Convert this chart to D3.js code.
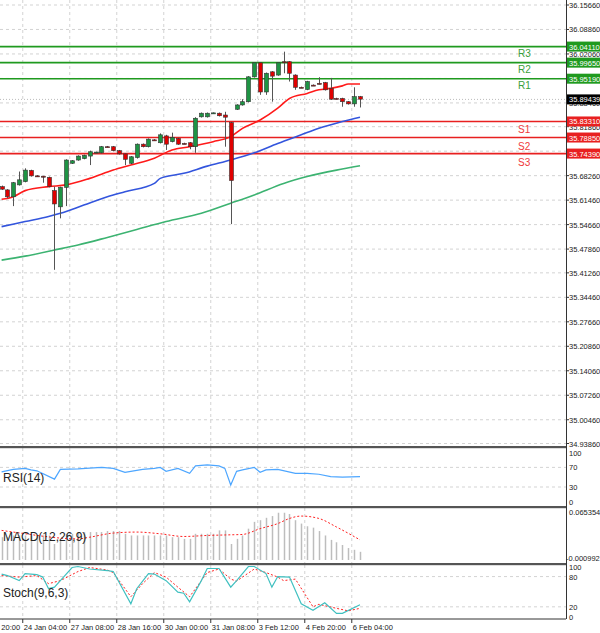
<!DOCTYPE html>
<html><head><meta charset="utf-8">
<script src="https://cdn.jsdelivr.net/npm/d3@7"></script>
<style>body{margin:0;background:#fff}svg{display:block;font-family:"Liberation Sans",Arial,sans-serif}</style>
</head><body><div id="chart"></div>
<script>
// H4 candles (price)
var opens  = [35.652,35.643,35.624,35.657,35.666,35.697,35.682,35.681,35.678,35.641,35.596,35.650,35.717,35.726,35.730,35.737,35.747,35.746,35.763,35.763,35.752,35.743,35.717,35.733,35.770,35.763,35.782,35.774,35.793,35.777,35.786,35.772,35.774,35.763,35.846,35.846,35.856,35.856,35.851,35.830,35.867,35.879,35.888,35.957,35.996,35.915,35.971,35.962,35.999,35.999,35.962,35.928,35.922,35.934,35.939,35.941,35.925,35.897,35.897,35.888,35.882,35.902];
var closes = [35.645,35.624,35.663,35.671,35.698,35.682,35.681,35.680,35.652,35.604,35.650,35.726,35.724,35.737,35.739,35.749,35.748,35.763,35.762,35.752,35.743,35.728,35.735,35.770,35.763,35.784,35.781,35.796,35.770,35.789,35.770,35.771,35.763,35.842,35.856,35.856,35.857,35.849,35.845,35.669,35.879,35.888,35.957,35.996,35.915,35.967,35.959,35.996,35.998,35.967,35.928,35.927,35.944,35.933,35.938,35.921,35.895,35.896,35.888,35.882,35.902,35.895];
var highs  = [35.655,35.645,35.665,35.694,35.703,35.699,35.684,35.682,35.680,35.652,35.652,35.728,35.726,35.739,35.741,35.752,35.749,35.765,35.765,35.765,35.754,35.745,35.737,35.772,35.772,35.786,35.784,35.800,35.796,35.802,35.788,35.774,35.776,35.845,35.858,35.858,35.858,35.858,35.860,35.832,35.881,35.895,35.959,35.998,35.998,35.969,35.973,35.998,36.027,36.001,35.964,35.930,35.946,35.936,35.956,35.943,35.954,35.899,35.899,35.890,35.928,35.904];
var lows   = [35.643,35.620,35.598,35.655,35.664,35.680,35.679,35.663,35.650,35.421,35.564,35.598,35.715,35.724,35.728,35.712,35.745,35.744,35.761,35.750,35.741,35.712,35.715,35.730,35.761,35.761,35.779,35.772,35.754,35.775,35.768,35.770,35.756,35.746,35.844,35.844,35.854,35.847,35.763,35.548,35.865,35.877,35.886,35.955,35.907,35.907,35.888,35.960,35.967,35.944,35.921,35.926,35.920,35.932,35.936,35.919,35.893,35.895,35.874,35.880,35.874,35.872];

// moving averages, [bar, price]
var maRed   = [[0,35.617],[2,35.624],[4,35.641],[8,35.652],[11,35.657],[15,35.675],[19,35.698],[22,35.712],[26,35.731],[29,35.754],[32,35.763],[36,35.777],[39,35.791],[41,35.814],[44,35.837],[47,35.870],[49,35.897],[52,35.911],[54,35.921],[56,35.925],[58,35.932],[59,35.937],[61,35.937]];
var maBlue  = [[0,35.541],[4,35.555],[8,35.569],[10,35.578],[14,35.601],[18,35.624],[21,35.638],[26,35.661],[27,35.675],[31,35.689],[35,35.709],[39,35.726],[43,35.746],[47,35.772],[51,35.796],[54,35.814],[58,35.833],[61,35.845]];
var maGreen = [[0,35.448],[4,35.459],[9,35.476],[13,35.490],[18,35.511],[23,35.533],[28,35.555],[34,35.578],[39,35.606],[43,35.629],[48,35.661],[52,35.680],[57,35.698],[61,35.710]];

var levelNames  = ["R3","R2","R1","S1","S2","S3"];
var levelValues = [36.0411,35.9965,35.9519,35.8331,35.7885,35.7439];
var lastPrice = 35.89439;

var priceTicks = ["36.15660","36.08860","36.02060","35.95260","35.88460","35.81860","35.75060","35.68260","35.61460","35.54660","35.47860","35.41260","35.34460","35.27660","35.20860","35.14060","35.07260","35.00460","34.93860"];
var timeLabels = ["22 Jan 20:00","24 Jan 04:00","27 Jan 08:00","28 Jan 16:00","30 Jan 00:00","31 Jan 08:00","3 Feb 12:00","4 Feb 20:00","6 Feb 04:00"];

var rsi = [[0,61],[2,66],[4,68],[5,65],[6,63],[9,46],[10,66],[13,67],[17,70],[19,68],[21,60],[24,66],[26,68],[27,70],[28,62],[30,68],[32,58],[33,73],[35,75],[37,73],[38,68],[39,34],[40,62],[41,65],[43,70],[44,60],[45,65],[47,66],[50,58],[52,58],[54,56],[56,51],[58,50],[61,51]];

var macdHist = [0.0315,0.0315,0.0339,0.0339,0.0339,0.0339,0.0339,0.0339,0.0339,0.0221,0.0268,0.0362,0.0362,0.0386,0.0386,0.0386,0.0386,0.0386,0.0400,0.0400,0.0400,0.0362,0.0339,0.0339,0.0339,0.0339,0.0339,0.0339,0.0339,0.0315,0.0315,0.0292,0.0292,0.0362,0.0362,0.0362,0.0362,0.0409,0.0409,0.0221,0.0292,0.0339,0.0433,0.0527,0.0550,0.0583,0.0607,0.0653,0.0653,0.0635,0.0550,0.0503,0.0466,0.0447,0.0400,0.0339,0.0278,0.0245,0.0207,0.0165,0.0141,0.0113];
var macdSignal = [[0,0.0409],[2,0.0386],[13,0.0292],[15,0.0315],[19,0.0372],[23,0.0386],[27,0.0362],[31,0.0325],[35,0.0339],[39,0.0348],[41,0.0353],[44,0.0433],[47,0.0503],[49,0.0574],[51,0.0607],[54,0.0574],[57,0.0456],[61,0.0278]];

var stochMain = [[0,85],[1,82],[3,72],[4,86],[6,84],[7,79],[8,56],[9,59],[10,72],[12,98],[13,100],[15,95],[18,92],[19,90],[22,26],[23,56],[25,86],[26,85],[28,72],[30,49],[31,47],[32,30],[34,72],[35,96],[37,96],[39,59],[40,72],[42,100],[43,100],[45,86],[46,59],[47,80],[49,79],[51,26],[53,13],[55,28],[57,7],[58,7],[61,24]];
var stochSignal = [[0,82],[3,79],[6,82],[8,66],[10,72],[13,90],[15,98],[18,93],[19,88],[22,40],[24,66],[26,88],[28,79],[30,59],[32,40],[35,88],[37,95],[39,75],[40,71],[43,95],[45,88],[47,79],[48,72],[50,75],[53,20],[54,25],[57,17],[59,12],[61,17]];

var W = 600, H = 633, plotR = 566;
var svg = d3.select("#chart").append("svg").attr("width", W).attr("height", H);

var x = d3.scaleLinear().domain([0, 61]).range([1.6, 360]);
var y = d3.scaleLinear().domain([34.9386, 36.1566]).range([443.5, 5]);
var yRsi = d3.scaleLinear().domain([0, 100]).range([501.7, 452.7]);
var yMacd = d3.scaleLinear().domain([0, 0.065354]).range([560, 512.7]);
var ySto = d3.scaleLinear().domain([0, 100]).range([616.9, 566.5]);

var grid = "#c8c8c8";
var tickIdx = timeLabels.map(function (d, i) { return -4.4 + 8 * i; });

// vertical grid
[[0,446],[448,506],[508,563],[565,619]].forEach(function (p) {
	svg.selectAll(null).data(tickIdx).enter().append("line")
		.attr("x1", function (d) { return x(d); }).attr("x2", function (d) { return x(d); })
		.attr("y1", p[0]).attr("y2", p[1])
		.attr("stroke", grid).attr("stroke-dasharray", "3,3").attr("stroke-width", 0.8);
});
// horizontal price grid
svg.selectAll(null).data(priceTicks).enter().append("line")
	.attr("x1", 0).attr("x2", plotR)
	.attr("y1", function (d) { return y(+d); }).attr("y2", function (d) { return y(+d); })
	.attr("stroke", grid).attr("stroke-dasharray", "3,3").attr("stroke-width", 0.8);

// sub-panel grids
[70,30].forEach(function (v) {
	svg.append("line").attr("x1",0).attr("x2",plotR).attr("y1",yRsi(v)).attr("y2",yRsi(v))
		.attr("stroke", grid).attr("stroke-dasharray","3,3").attr("stroke-width",0.8);
});
[80,20].forEach(function (v) {
	svg.append("line").attr("x1",0).attr("x2",plotR).attr("y1",ySto(v)).attr("y2",ySto(v))
		.attr("stroke", grid).attr("stroke-dasharray","3,3").attr("stroke-width",0.8);
});

// last price dotted line
svg.append("line").attr("x1",0).attr("x2",plotR).attr("y1",y(lastPrice)).attr("y2",y(lastPrice))
	.attr("stroke","#bbb").attr("stroke-dasharray","1,2");

// levels
var levelColor = function (i) { return i < 3 ? "#1f9a1f" : "#e82020"; };
levelValues.forEach(function (v, i) {
	svg.append("line").attr("x1",0).attr("x2",plotR).attr("y1",y(v)).attr("y2",y(v))
		.attr("stroke", levelColor(i)).attr("stroke-width",1.6);
	svg.append("text").attr("x",518).attr("y", y(v) + (i < 3 ? 10 : 12))
		.attr("font-size",10).attr("fill", i < 3 ? "#3aa03a" : "#f03a3a").text(levelNames[i]);
});

// moving averages
var line = d3.line().x(function (d) { return x(d[0]); }).y(function (d) { return y(d[1]); }).curve(d3.curveMonotoneX);
[[maGreen,"#3cb371"],[maBlue,"#3355dd"],[maRed,"#ff1a1a"]].forEach(function (m) {
	svg.append("path").attr("d", line(m[0])).attr("fill","none").attr("stroke",m[1]).attr("stroke-width",1.6);
});

// candles
var cg = svg.append("g");
opens.forEach(function (o, i) {
	var c = closes[i], up = c >= o, cx = Math.round(x(i)) + 0.5;
	cg.append("line").attr("x1",cx).attr("x2",cx).attr("y1",y(highs[i])).attr("y2",y(lows[i]))
		.attr("stroke","#555").attr("stroke-width",1);
	var top = y(Math.max(o, c)), h = Math.max(1, Math.abs(y(o) - y(c)));
	cg.append("rect").attr("x",cx - 2).attr("y",top).attr("width",4).attr("height",h)
		.attr("fill", up ? "#1e9444" : "#e00000").attr("stroke","#333").attr("stroke-width",0.6);
});

// RSI
var rsiLine = d3.line().x(function (d) { return x(d[0]); }).y(function (d) { return yRsi(d[1]); });
svg.append("path").attr("d", rsiLine(rsi)).attr("fill","none").attr("stroke","#4da6ff").attr("stroke-width",1.2);

// MACD
svg.selectAll(null).data(macdHist).enter().append("line")
	.attr("x1", function (d, i) { return Math.round(x(i)) + 0.5; })
	.attr("x2", function (d, i) { return Math.round(x(i)) + 0.5; })
	.attr("y1", yMacd(0)).attr("y2", function (d) { return yMacd(d); })
	.attr("stroke","#bdbdbd").attr("stroke-width",1.5);
var sigLine = d3.line().x(function (d) { return x(d[0]); }).y(function (d) { return yMacd(d[1]); }).curve(d3.curveMonotoneX);
svg.append("path").attr("d", sigLine(macdSignal)).attr("fill","none").attr("stroke","#ff2020")
	.attr("stroke-dasharray","2,2").attr("stroke-width",1);

// Stochastic
var stoLine = d3.line().x(function (d) { return x(d[0]); }).y(function (d) { return ySto(d[1]); });
svg.append("path").attr("d", stoLine(stochSignal)).attr("fill","none").attr("stroke","#ff2020")
	.attr("stroke-dasharray","2,2").attr("stroke-width",1);
svg.append("path").attr("d", stoLine(stochMain)).attr("fill","none").attr("stroke","#40c0c0").attr("stroke-width",1.2);

// panel captions
svg.append("text").attr("x",3).attr("y",482).attr("font-size",12).attr("fill","#222").text("RSI(14)");
svg.append("text").attr("x",3).attr("y",541).attr("font-size",12).attr("fill","#222").text("MACD(12,26,9)");
svg.append("text").attr("x",3).attr("y",597).attr("font-size",12).attr("fill","#222").text("Stoch(9,6,3)");

// separators and frame
[447, 507, 564].forEach(function (yy) {
	svg.append("rect").attr("x",0).attr("y",yy - 1).attr("width",plotR).attr("height",2.2).attr("fill","#555");
});
svg.append("line").attr("x1",plotR + 0.5).attr("x2",plotR + 0.5).attr("y1",0).attr("y2",619).attr("stroke","#333");
svg.append("line").attr("x1",0).attr("x2",plotR).attr("y1",619).attr("y2",619).attr("stroke","#333");

// right axis
var ax = svg.append("g").attr("font-size",7.5).attr("fill","#222");
priceTicks.forEach(function (t) {
	ax.append("line").attr("x1",plotR).attr("x2",plotR + 3).attr("y1",y(+t)).attr("y2",y(+t)).attr("stroke","#333");
	ax.append("text").attr("x",569).attr("y",y(+t) + 3).text(t);
});
[[100,"100"],[70,"70"],[30,"30"],[0,"0"]].forEach(function (t) {
	ax.append("text").attr("x",569).attr("y",yRsi(t[0]) + 3).text(t[1]);
});
ax.append("text").attr("x",569).attr("y",515).text("0.065354");
ax.append("text").attr("x",566).attr("y",561).text("-0.000992");
[[100,"100"],[80,"80"],[20,"20"],[0,"0"]].forEach(function (t) {
	ax.append("text").attr("x",569).attr("y",ySto(t[0]) + 3).text(t[1]);
});

// level tags
levelValues.forEach(function (v, i) {
	svg.append("rect").attr("x",plotR + 1).attr("y",y(v) - 5).attr("width",34).attr("height",10).attr("fill",levelColor(i));
	svg.append("text").attr("x",569).attr("y",y(v) + 3).attr("font-size",7.5).attr("fill","#fff").text(v.toFixed(5));
});
svg.append("rect").attr("x",plotR + 1).attr("y",y(lastPrice) - 5).attr("width",34).attr("height",10).attr("fill","#000");
svg.append("text").attr("x",569).attr("y",y(lastPrice) + 3).attr("font-size",7.5).attr("fill","#fff").text(lastPrice.toFixed(5));

// time axis
timeLabels.forEach(function (t, i) {
	var tx = x(tickIdx[i]);
	svg.append("line").attr("x1",tx).attr("x2",tx).attr("y1",619).attr("y2",623).attr("stroke","#333");
	svg.append("text").attr("x",tx + 1).attr("y",630).attr("font-size",7.5).attr("fill","#222").text(t);
});
</script></body></html>
